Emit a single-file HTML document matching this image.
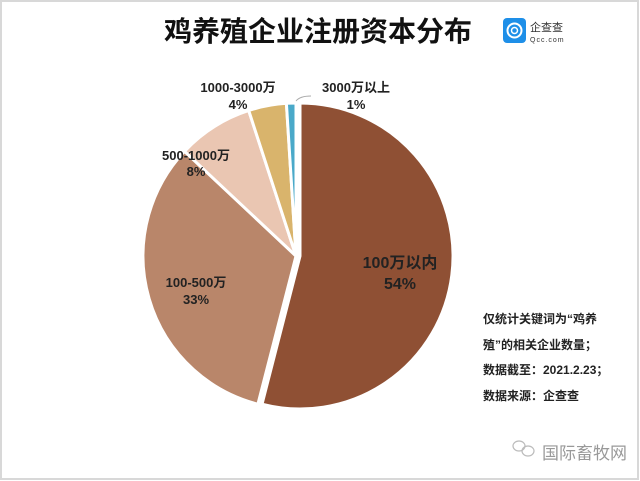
<!DOCTYPE html>
<html><head><meta charset="utf-8"><style>
body{margin:0;background:#fff;}
.w{position:relative;width:640px;height:481px;overflow:hidden;font-family:"Liberation Sans","Noto Sans CJK SC",sans-serif;}
</style></head><body><div class="w">
<svg width="640" height="481" viewBox="0 0 640 481" xmlns="http://www.w3.org/2000/svg" font-family="Liberation Sans, Noto Sans CJK SC, sans-serif">
<rect x="1" y="1" width="637" height="478" fill="#fff" stroke="#d8d8d8" stroke-width="2"/>
<text x="318" y="41" text-anchor="middle" font-size="28" font-weight="bold" fill="#111">鸡养殖企业注册资本分布</text>
<rect x="503" y="18" width="23" height="25" rx="4" fill="#1e8fe8"/>
<circle cx="514.5" cy="30.5" r="7" fill="none" stroke="#fff" stroke-width="2"/>
<circle cx="514.5" cy="30.5" r="3" fill="none" stroke="#fff" stroke-width="1.5"/>
<text x="530" y="31" font-size="11" fill="#333">企查查</text>
<text x="530" y="42" font-size="7" fill="#333" letter-spacing="1">Qcc.com</text>
<g stroke="#fff" stroke-width="3">
<path d="M300,256 L300,103 A153,153 0 1 1 262,404.2 Z" fill="#8f5034"/>
<path d="M296,256 L257.9,404.2 A153,153 0 0 1 184.5,151.3 Z" fill="#b9866a"/>
<path d="M296,256 L184.5,151.3 A153,153 0 0 1 248.7,110.5 Z" fill="#eac6b2"/>
<path d="M296,256 L248.7,110.5 A153,153 0 0 1 286.4,103.3 Z" fill="#d9b46c"/>
<path d="M296,256 L286.4,103.3 A153,153 0 0 1 296,103 Z" fill="#4aa9c9"/>
</g>
<path d="M296,101 Q300,96 311,96" fill="none" stroke="#aaa" stroke-width="1"/>
<g font-weight="bold" text-anchor="middle" fill="#222">
<text x="400" y="268" font-size="16">100万以内</text>
<text x="400" y="289" font-size="16">54%</text>
<text x="196" y="287" font-size="13">100-500万</text>
<text x="196" y="304" font-size="13">33%</text>
<text x="196" y="160" font-size="13">500-1000万</text>
<text x="196" y="176" font-size="13">8%</text>
<text x="238" y="92" font-size="13">1000-3000万</text>
<text x="238" y="109" font-size="13">4%</text>
<text x="356" y="92" font-size="13">3000万以上</text>
<text x="356" y="109" font-size="13">1%</text>
</g>
<g font-size="12" font-weight="bold" fill="#222">
<text x="483" y="323">仅统计关键词为“鸡养</text>
<text x="483" y="349">殖”的相关企业数量；</text>
<text x="483" y="374">数据截至：2021.2.23；</text>
<text x="483" y="400">数据来源：企查查</text>
</g>
<g fill="none" stroke="#bbb" stroke-width="1.2">
<ellipse cx="519" cy="446" rx="6" ry="5"/>
<ellipse cx="528" cy="451" rx="6" ry="5"/>
</g>
<text x="542" y="459" font-size="17" fill="#999">国际畜牧网</text>
</svg>
</div></body></html>
